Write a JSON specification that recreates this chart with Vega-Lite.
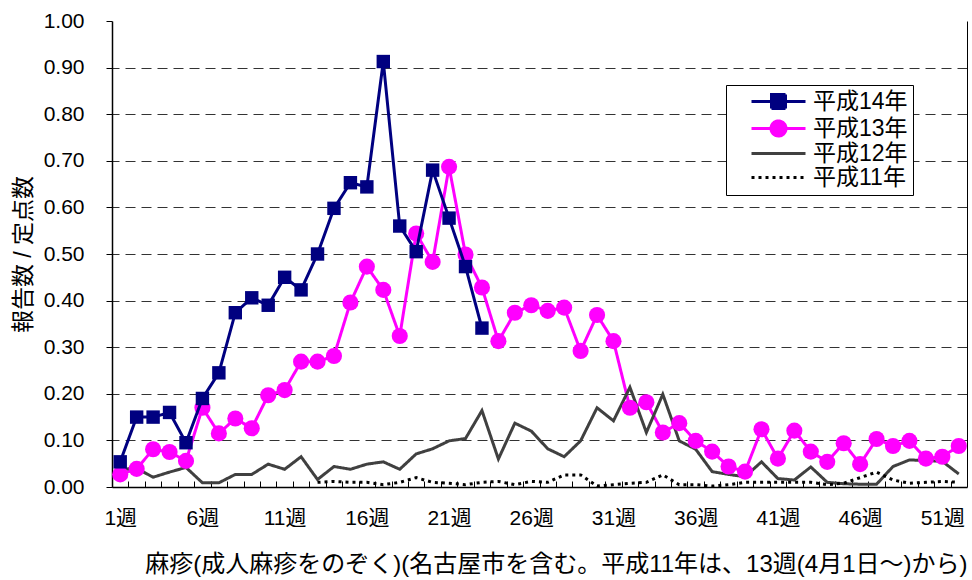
{
  "$schema": "https://vega.github.io/schema/vega-lite/v6.json",
  "width": 855,
  "height": 466,
  "autosize": "none",
  "padding": {"left": 112, "top": 21, "right": 5, "bottom": 93},
  "background": "white",
  "config": {"view": {"stroke": null}, "font": "Liberation Sans, Noto Sans CJK JP"},
  "data": {"values": [
    {"w":1,"s":"平成14年","v":0.054},{"w":2,"s":"平成14年","v":0.15},{"w":3,"s":"平成14年","v":0.15},{"w":4,"s":"平成14年","v":0.16},{"w":5,"s":"平成14年","v":0.095},{"w":6,"s":"平成14年","v":0.19},{"w":7,"s":"平成14年","v":0.245},{"w":8,"s":"平成14年","v":0.374},{"w":9,"s":"平成14年","v":0.406},{"w":10,"s":"平成14年","v":0.39},{"w":11,"s":"平成14年","v":0.45},{"w":12,"s":"平成14年","v":0.423},{"w":13,"s":"平成14年","v":0.5},{"w":14,"s":"平成14年","v":0.598},{"w":15,"s":"平成14年","v":0.653},{"w":16,"s":"平成14年","v":0.644},{"w":17,"s":"平成14年","v":0.913},{"w":18,"s":"平成14年","v":0.56},{"w":19,"s":"平成14年","v":0.505},{"w":20,"s":"平成14年","v":0.68},{"w":21,"s":"平成14年","v":0.577},{"w":22,"s":"平成14年","v":0.473},{"w":23,"s":"平成14年","v":0.341},
    {"w":1,"s":"平成13年","v":0.027},{"w":2,"s":"平成13年","v":0.039},{"w":3,"s":"平成13年","v":0.081},{"w":4,"s":"平成13年","v":0.075},{"w":5,"s":"平成13年","v":0.056},{"w":6,"s":"平成13年","v":0.17},{"w":7,"s":"平成13年","v":0.115},{"w":8,"s":"平成13年","v":0.147},{"w":9,"s":"平成13年","v":0.126},{"w":10,"s":"平成13年","v":0.197},{"w":11,"s":"平成13年","v":0.208},{"w":12,"s":"平成13年","v":0.269},{"w":13,"s":"平成13年","v":0.269},{"w":14,"s":"平成13年","v":0.281},{"w":15,"s":"平成13年","v":0.396},{"w":16,"s":"平成13年","v":0.473},{"w":17,"s":"平成13年","v":0.423},{"w":18,"s":"平成13年","v":0.324},{"w":19,"s":"平成13年","v":0.544},{"w":20,"s":"平成13年","v":0.483},{"w":21,"s":"平成13年","v":0.687},{"w":22,"s":"平成13年","v":0.499},{"w":23,"s":"平成13年","v":0.428},{"w":24,"s":"平成13年","v":0.313},{"w":25,"s":"平成13年","v":0.374},{"w":26,"s":"平成13年","v":0.39},{"w":27,"s":"平成13年","v":0.378},{"w":28,"s":"平成13年","v":0.385},{"w":29,"s":"平成13年","v":0.292},{"w":30,"s":"平成13年","v":0.369},{"w":31,"s":"平成13年","v":0.313},{"w":32,"s":"平成13年","v":0.17},{"w":33,"s":"平成13年","v":0.182},{"w":34,"s":"平成13年","v":0.117},{"w":35,"s":"平成13年","v":0.137},{"w":36,"s":"平成13年","v":0.099},{"w":37,"s":"平成13年","v":0.076},{"w":38,"s":"平成13年","v":0.044},{"w":39,"s":"平成13年","v":0.033},{"w":40,"s":"平成13年","v":0.124},{"w":41,"s":"平成13年","v":0.061},{"w":42,"s":"平成13年","v":0.121},{"w":43,"s":"平成13年","v":0.076},{"w":44,"s":"平成13年","v":0.054},{"w":45,"s":"平成13年","v":0.094},{"w":46,"s":"平成13年","v":0.049},{"w":47,"s":"平成13年","v":0.103},{"w":48,"s":"平成13年","v":0.088},{"w":49,"s":"平成13年","v":0.099},{"w":50,"s":"平成13年","v":0.061},{"w":51,"s":"平成13年","v":0.065},{"w":52,"s":"平成13年","v":0.088},
    {"w":1,"s":"平成12年","v":0.038},{"w":2,"s":"平成12年","v":0.04},{"w":3,"s":"平成12年","v":0.021},{"w":4,"s":"平成12年","v":0.032},{"w":5,"s":"平成12年","v":0.042},{"w":6,"s":"平成12年","v":0.009},{"w":7,"s":"平成12年","v":0.009},{"w":8,"s":"平成12年","v":0.027},{"w":9,"s":"平成12年","v":0.027},{"w":10,"s":"平成12年","v":0.049},{"w":11,"s":"平成12年","v":0.038},{"w":12,"s":"平成12年","v":0.065},{"w":13,"s":"平成12年","v":0.016},{"w":14,"s":"平成12年","v":0.044},{"w":15,"s":"平成12年","v":0.038},{"w":16,"s":"平成12年","v":0.049},{"w":17,"s":"平成12年","v":0.054},{"w":18,"s":"平成12年","v":0.038},{"w":19,"s":"平成12年","v":0.071},{"w":20,"s":"平成12年","v":0.082},{"w":21,"s":"平成12年","v":0.099},{"w":22,"s":"平成12年","v":0.104},{"w":23,"s":"平成12年","v":0.164},{"w":24,"s":"平成12年","v":0.06},{"w":25,"s":"平成12年","v":0.137},{"w":26,"s":"平成12年","v":0.12},{"w":27,"s":"平成12年","v":0.082},{"w":28,"s":"平成12年","v":0.065},{"w":29,"s":"平成12年","v":0.099},{"w":30,"s":"平成12年","v":0.17},{"w":31,"s":"平成12年","v":0.142},{"w":32,"s":"平成12年","v":0.214},{"w":33,"s":"平成12年","v":0.117},{"w":34,"s":"平成12年","v":0.199},{"w":35,"s":"平成12年","v":0.099},{"w":36,"s":"平成12年","v":0.081},{"w":37,"s":"平成12年","v":0.033},{"w":38,"s":"平成12年","v":0.027},{"w":39,"s":"平成12年","v":0.022},{"w":40,"s":"平成12年","v":0.054},{"w":41,"s":"平成12年","v":0.018},{"w":42,"s":"平成12年","v":0.015},{"w":43,"s":"平成12年","v":0.043},{"w":44,"s":"平成12年","v":0.01},{"w":45,"s":"平成12年","v":0.007},{"w":46,"s":"平成12年","v":0.006},{"w":47,"s":"平成12年","v":0.006},{"w":48,"s":"平成12年","v":0.044},{"w":49,"s":"平成12年","v":0.058},{"w":50,"s":"平成12年","v":0.057},{"w":51,"s":"平成12年","v":0.055},{"w":52,"s":"平成12年","v":0.028},
    {"w":13,"s":"平成11年","v":0.01},{"w":14,"s":"平成11年","v":0.012},{"w":15,"s":"平成11年","v":0.01},{"w":16,"s":"平成11年","v":0.01},{"w":17,"s":"平成11年","v":0.005},{"w":18,"s":"平成11年","v":0.01},{"w":19,"s":"平成11年","v":0.02},{"w":20,"s":"平成11年","v":0.01},{"w":21,"s":"平成11年","v":0.008},{"w":22,"s":"平成11年","v":0.005},{"w":23,"s":"平成11年","v":0.01},{"w":24,"s":"平成11年","v":0.012},{"w":25,"s":"平成11年","v":0.005},{"w":26,"s":"平成11年","v":0.012},{"w":27,"s":"平成11年","v":0.01},{"w":28,"s":"平成11年","v":0.026},{"w":29,"s":"平成11年","v":0.026},{"w":30,"s":"平成11年","v":0.002},{"w":31,"s":"平成11年","v":0.005},{"w":32,"s":"平成11年","v":0.008},{"w":33,"s":"平成11年","v":0.01},{"w":34,"s":"平成11年","v":0.026},{"w":35,"s":"平成11年","v":0.005},{"w":36,"s":"平成11年","v":0.005},{"w":37,"s":"平成11年","v":0.002},{"w":38,"s":"平成11年","v":0.005},{"w":39,"s":"平成11年","v":0.01},{"w":40,"s":"平成11年","v":0.01},{"w":41,"s":"平成11年","v":0.01},{"w":42,"s":"平成11年","v":0.01},{"w":43,"s":"平成11年","v":0.01},{"w":44,"s":"平成11年","v":0.005},{"w":45,"s":"平成11年","v":0.008},{"w":46,"s":"平成11年","v":0.02},{"w":47,"s":"平成11年","v":0.032},{"w":48,"s":"平成11年","v":0.015},{"w":49,"s":"平成11年","v":0.008},{"w":50,"s":"平成11年","v":0.01},{"w":51,"s":"平成11年","v":0.012},{"w":52,"s":"平成11年","v":0.01}
  ]},
  "resolve": {"axis": {"x": "independent", "y": "independent"}},
  "layer": [
    {
      "transform": [{"filter": "datum.s !== '平成14年'"}],
      "mark": {"type": "line", "strokeCap": "butt"},
      "encoding": {
        "x": {"field": "w", "type": "quantitative", "scale": {"domain": [0.5, 52.5], "nice": false, "zero": false},
          "axis": {"values": [1,2,3,4,5,6,7,8,9,10,11,12,13,14,15,16,17,18,19,20,21,22,23,24,25,26,27,28,29,30,31,32,33,34,35,36,37,38,39,40,41,42,43,44,45,46,47,48,49,50,51,52],
            "tickOffset": -8.22, "labelOffset": 8.22,
            "labelExpr": "(datum.value-1)%5===0 ? datum.value+'週' : ''",
            "labelOverlap": false, "labelFlush": false, "labelBound": false,
            "tickSize": -6, "tickColor": "black", "tickWidth": 1,
            "domainColor": "black", "domainWidth": 1.5,
            "labelFontSize": 21, "labelColor": "black", "labelPadding": 26,
            "grid": false,
            "title": "麻疹(成人麻疹をのぞく)(名古屋市を含む。平成11年は、13週(4月1日～)から)",
            "titleFontSize": 24, "titleFontWeight": "normal", "titleColor": "black", "titlePadding": 24, "titleAnchor": "end"}},
        "y": {"field": "v", "type": "quantitative", "scale": {"domain": [0, 1], "nice": false},
          "axis": {"values": [0,0.1,0.2,0.3,0.4,0.5,0.6,0.7,0.8,0.9,1], "format": ".2f", "grid": false,
            "tickSize": 6, "tickColor": "black", "domainColor": "black", "domainWidth": 1.5,
            "labelFontSize": 21, "labelColor": "black", "labelPadding": 22,
            "title": "報告数 / 定点数", "titleFontSize": 23, "titleFontWeight": "normal", "titleColor": "black", "titlePadding": 8}},
        "color": {"field": "s", "type": "nominal",
          "scale": {"domain": ["平成14年","平成13年","平成12年","平成11年"], "range": ["#000080","#FF00FF","#404040","#000000"]},
          "legend": {"orient": "none", "legendX": 614, "legendY": 64, "title": null, "direction": "vertical",
            "strokeColor": "black", "fillColor": "white", "padding": 5, "symbolOffset": 19, "symbolSize": 400,
            "symbolType": "stroke",
            "labelFontSize": 23, "labelColor": "black", "labelOffset": 40, "rowPadding": 0,
            "labelExpr": "datum.label + '\u3000'",
            "encode": {"symbols": {"update": {
              "shape": {"signal": "datum.value === '平成14年' ? 'M-1,0L4.4,0M1,-0.7L2.4,-0.7L2.4,0.7L1,0.7Z' : datum.value === '平成13年' ? 'M-1,0L4.4,0M2.45,0A0.75,0.75,0,1,1,0.95,0A0.75,0.75,0,1,1,2.45,0Z' : 'M-1,0L4.4,0'"},
              "strokeDash": {"signal": "datum.value === '平成11年' ? [4,3] : [1,0]"},
              "strokeWidth": {"signal": "datum.value === '平成12年' ? 1.5 : datum.value === '平成11年' ? 2 : 3"},
              "fill": {"scale": "color", "field": "value"},
              "stroke": {"scale": "color", "field": "value"},
              "opacity": {"value": 1}
            }}}}},
        "strokeDash": {"field": "s", "type": "nominal",
          "scale": {"domain": ["平成14年","平成13年","平成12年","平成11年"], "range": [[1,0],[1,0],[1,0],[3,4]]}, "legend": null},
        "strokeWidth": {"field": "s", "type": "ordinal",
          "scale": {"domain": ["平成14年","平成13年","平成12年","平成11年"], "range": [3,3,1.5,2]}, "legend": null}
      }
    },
    {
      "transform": [{"filter": "datum.s === '平成13年'"}],
      "mark": {"type": "point", "shape": "circle", "filled": true, "size": 260, "opacity": 1},
      "encoding": {
        "x": {"field": "w", "type": "quantitative", "axis": null},
        "y": {"field": "v", "type": "quantitative", "axis": null},
        "color": {"field": "s", "type": "nominal", "legend": null}
      }
    },
    {
      "transform": [{"filter": "datum.s === '平成14年'"}],
      "mark": {"type": "line", "strokeWidth": 3},
      "encoding": {
        "x": {"field": "w", "type": "quantitative", "axis": null},
        "y": {"field": "v", "type": "quantitative", "axis": null},
        "color": {"field": "s", "type": "nominal", "legend": null}
      }
    },
    {
      "transform": [{"filter": "datum.s === '平成14年'"}],
      "mark": {"type": "point", "shape": "square", "filled": true, "size": 180, "opacity": 1},
      "encoding": {
        "x": {"field": "w", "type": "quantitative", "axis": null},
        "y": {"field": "v", "type": "quantitative",
          "axis": {"orient": "right", "values": [0.1,0.2,0.3,0.4,0.5,0.6,0.7,0.8,0.9], "grid": true,
            "gridDash": [10,6], "gridColor": "#333333", "gridWidth": 1,
            "ticks": false, "labels": false, "domain": true, "domainColor": "black", "domainWidth": 1, "title": null}},
        "color": {"field": "s", "type": "nominal", "legend": null}
      }
    }
  ]
}
